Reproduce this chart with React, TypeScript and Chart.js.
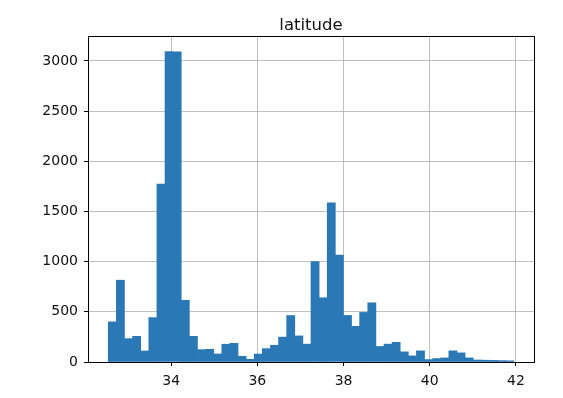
import React, { useEffect, useRef } from "react";
import { Chart, registerables } from "chart.js";

Chart.register(...registerables);

const TITLE = "latitude";
const BIN_START = 32.54;
const BIN_END = 41.95;
const COUNTS = [
  400, 815, 233, 256, 110, 442, 1773, 3093, 3090, 615,
  256, 123, 127, 80, 177, 186, 57, 27, 79, 133,
  167, 248, 463, 260, 178, 1000, 640, 1585, 1065, 464,
  356, 494, 590, 155, 178, 196, 101, 61, 111, 24,
  34, 41, 111, 91, 41, 20, 18, 16, 14, 12,
];
const X_TICKS = [34, 36, 38, 40, 42];
const Y_TICKS = [0, 500, 1000, 1500, 2000, 2500, 3000];
const X_MIN = 32.07;
const X_MAX = 42.42;
const Y_MAX = 3248;

const BIN_W = (BIN_END - BIN_START) / COUNTS.length;
const CENTERS = COUNTS.map((_, i) => BIN_START + BIN_W * (i + 0.5));

const FONT = "'DejaVu Sans', sans-serif";

const framePlugin = {
  id: "frame",
  afterDraw(chart: any) {
    const { ctx, chartArea } = chart;
    ctx.save();
    ctx.strokeStyle = "#000";
    ctx.lineWidth = 1;
    ctx.strokeRect(
      Math.round(chartArea.left) + 0.5,
      Math.round(chartArea.top) + 0.5,
      Math.round(chartArea.right - chartArea.left),
      Math.round(chartArea.bottom - chartArea.top)
    );
    ctx.fillStyle = "#111";
    ctx.font = `16.5px ${FONT}`;
    ctx.textAlign = "center";
    ctx.textBaseline = "alphabetic";
    ctx.fillText(TITLE, (chartArea.left + chartArea.right) / 2, 30);
    ctx.restore();
  },
};

export default function App() {
  const ref = useRef<HTMLCanvasElement>(null);
  useEffect(() => {
    if (!ref.current) return;
    const chart = new Chart(ref.current, {
      type: "bar",
      data: {
        datasets: [
          {
            data: CENTERS.map((c, i) => ({ x: c, y: COUNTS[i] })),
            backgroundColor: "#2a78b5",
            borderWidth: 0,
            barPercentage: 1,
            categoryPercentage: 1,
          },
        ],
      },
      options: {
        animation: false,
        responsive: false,
        devicePixelRatio: 1,
        layout: { padding: { left: 0, top: 36, right: 29, bottom: 0 } },
        plugins: {
          legend: { display: false },
          tooltip: { enabled: false },
          title: { display: false },
        },
        scales: {
          x: {
            type: "linear",
            min: X_MIN,
            max: X_MAX,
            offset: false,
            z: 1,
            afterBuildTicks: (s: any) => {
              s.ticks = X_TICKS.map((v) => ({ value: v }));
            },
            afterFit: (s: any) => {
              s.height = 36;
            },
            grid: {
              offset: false,
              color: "rgba(176,176,176,0.8)",
              lineWidth: 1,
              drawTicks: true,
              tickLength: 4,
              tickColor: "#000",
            },
            border: { display: false },
            ticks: {
              color: "#111",
              font: { family: FONT, size: 14 },
              padding: 7,
              maxRotation: 0,
              autoSkip: false,
              callback: (v: any) => String(v),
            },
          },
          y: {
            type: "linear",
            min: 0,
            max: Y_MAX,
            z: 1,
            afterBuildTicks: (s: any) => {
              s.ticks = Y_TICKS.map((v) => ({ value: v }));
            },
            afterFit: (s: any) => {
              s.width = 88;
            },
            grid: {
              color: "rgba(176,176,176,0.8)",
              lineWidth: 1,
              drawTicks: true,
              tickLength: 4,
              tickColor: "#000",
            },
            border: { display: false },
            ticks: {
              color: "#111",
              font: { family: FONT, size: 14 },
              padding: 6,
              autoSkip: false,
              callback: (v: any) => String(v),
            },
          },
        },
      },
      plugins: [framePlugin],
    } as any);
    return () => chart.destroy();
  }, []);
  return (
    <div style={{ position: "absolute", left: 0, top: 0, width: 563, height: 398, background: "#fff" }}>
      <canvas ref={ref} width={563} height={398} style={{ display: "block" }} />
    </div>
  );
}
